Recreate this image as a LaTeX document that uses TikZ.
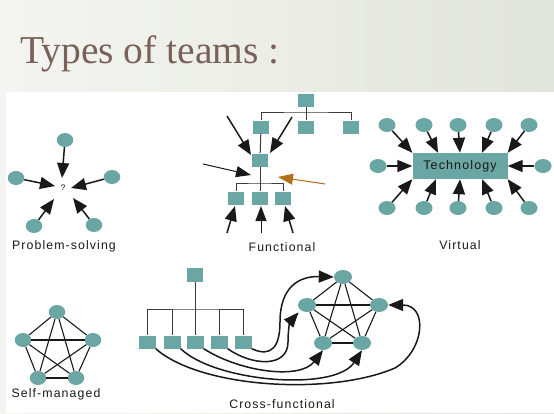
\documentclass[tikz,border=0pt]{standalone}
\usepackage{fontspec}
\newfontfamily\labfont[LetterSpace=9]{Liberation Sans}
\newfontfamily\ttlfont{Liberation Serif}
\usetikzlibrary{arrows.meta,shapes.geometric}
\definecolor{tealfill}{RGB}{106,166,163}
\definecolor{titlecol}{RGB}{120,98,90}
\definecolor{bgleft}{RGB}{244,245,241}
\definecolor{bgright}{RGB}{226,229,219}
\definecolor{inkc}{RGB}{25,25,25}
\definecolor{brownarrow}{RGB}{176,112,24}
\tikzset{
  circ/.style={ellipse,fill=tealfill,minimum width=16.5pt,minimum height=14pt,inner sep=0pt},
  sqr/.style={rectangle,fill=tealfill,minimum width=15.5pt,minimum height=13pt,inner sep=0pt},
  arr/.style={draw=inkc,line width=1.5pt,-{Triangle[length=15pt,width=12pt]}},
  thinarr/.style={draw=inkc,line width=1pt,-{Triangle[length=15pt,width=11pt]}},
  treeline/.style={draw=inkc!85,line width=1pt},
  edgeline/.style={draw=inkc,line width=1.1pt},
  lab/.style={font=\labfont\fontsize{12.3}{14}\selectfont,text=inkc,inner sep=0pt},
}
\begin{document}
\begin{tikzpicture}[x=1pt,y=-1pt]
\useasboundingbox (0,0) rectangle (554,413);
\shade[left color=bgleft,right color=bgright] (0,0) rectangle (554,413);
\fill[white] (6,92) rectangle (554,413);
\node[anchor=base west,inner sep=0pt,text=titlecol,font=\ttlfont\fontsize{39.5}{44}\selectfont] (title) at (20,63) {Types of teams :};

% ---------- Problem-solving ----------
\node[circ] (p1) at (65,140) {};
\node[circ] (p2) at (16,178) {};
\node[circ] (p3) at (112,177) {};
\node[circ] (p4) at (34,226) {};
\node[circ] (p5) at (94,225) {};
\node[font=\labfont\fontsize{8}{9}\selectfont,inner sep=0pt] (q) at (63,188) {?};
\coordinate (pt1) at (62,178);
\coordinate (pt2) at (55,186);
\coordinate (pt3) at (71,188);
\coordinate (pt4) at (54,199);
\coordinate (pt5) at (73,198);
\draw[arr] (p1) -- (pt1);
\draw[arr] (p2) -- (pt2);
\draw[arr] (p3) -- (pt3);
\draw[arr] (p4) -- (pt4);
\draw[arr] (p5) -- (pt5);
\node[lab] (lps) at (64,246) {Problem-solving};

% ---------- Functional ----------
\node[sqr] (f0) at (306,100) {};
\node[sqr] (f1) at (261,127) {};
\node[sqr] (f2) at (306,127) {};
\node[sqr] (f3) at (351,127) {};
\node[sqr] (fm) at (260,160) {};
\node[sqr] (fb1) at (236,198) {};
\node[sqr] (fb2) at (260,198) {};
\node[sqr] (fb3) at (283,198) {};
\coordinate (fj) at (306,112);
\coordinate (fk) at (260,183);
\draw[treeline] (f0) -- (f2);
\draw[treeline] (f1) |- (fj) -| (f3);
\draw[treeline] (f1) -- (fm);
\draw[treeline] (fm) -- (fb2);
\draw[treeline] (fb1) |- (fk) -| (fb3);
\coordinate (fa1s) at (227,116); \coordinate (fa1e) at (251,155);
\coordinate (fa2s) at (292,117); \coordinate (fa2e) at (270,153);
\coordinate (fa3s) at (203,164); \coordinate (fa3e) at (251,175);
\coordinate (fa4s) at (325,184); \coordinate (fa4e) at (278,177);
\coordinate (fb1s) at (227,233); \coordinate (fb1e) at (235,206);
\coordinate (fb2s) at (261,233); \coordinate (fb2e) at (261,206);
\coordinate (fb3s) at (293,233); \coordinate (fb3e) at (285,206);
\draw[arr] (fa1s) -- (fa1e);
\draw[arr] (fa2s) -- (fa2e);
\draw[thinarr] (fa3s) -- (fa3e);
\draw[thinarr,draw=brownarrow,fill=brownarrow] (fa4s) -- (fa4e);
\draw[arr] (fb1s) -- (fb1e);
\draw[thinarr] (fb2s) -- (fb2e);
\draw[arr] (fb3s) -- (fb3e);
\node[lab] (lfn) at (282,247) {Functional};

% ---------- Virtual ----------
\node[rectangle,fill=tealfill,minimum width=95pt,minimum height=26pt,inner sep=0pt,
      font=\labfont\fontsize{12.5}{14}\selectfont,text=inkc] (tech) at (460,166) {Technology};
\foreach \i/\x in {1/387,2/424,3/458,4/494,5/529}{
  \node[circ,minimum width=17pt] (vt\i) at (\x,125) {};
  \node[circ,minimum width=17pt] (vb\i) at (\x,208) {};
}
\node[circ,minimum width=17pt] (vl) at (378,166) {};
\node[circ,minimum width=17pt] (vr) at (543,166) {};
\draw[arr] (vt1) -- (tech.north west);
\draw[arr] (vt2) -- ([xshift=-22pt]tech.north);
\draw[arr] (vt3) -- (tech.north);
\draw[arr] (vt4) -- ([xshift=22pt]tech.north);
\draw[arr] (vt5) -- (tech.north east);
\draw[arr] (vb1) -- (tech.south west);
\draw[arr] (vb2) -- ([xshift=-24pt]tech.south);
\draw[arr] (vb3) -- (tech.south);
\draw[arr] (vb4) -- ([xshift=22pt]tech.south);
\draw[arr] (vb5) -- (tech.south east);
\draw[arr] (vl) -- (tech.west);
\draw[arr] (vr) -- (tech.east);
\node[lab] (lvi) at (460,245) {Virtual};

% ---------- Self-managed ----------
\node[circ] (s1) at (57,312) {};
\node[circ] (s2) at (23,340) {};
\node[circ] (s3) at (93,340) {};
\node[circ] (s4) at (38,378) {};
\node[circ] (s5) at (76,378) {};
\foreach \a/\b in {s1/s2,s1/s3,s1/s4,s1/s5,s2/s3,s2/s4,s2/s5,s3/s4,s3/s5,s4/s5}
  \draw[edgeline] (\a) -- (\b);
\node[lab] (lsm) at (56,394) {Self-managed};

% ---------- Cross-functional ----------
\node[sqr,minimum width=16pt,minimum height=14pt] (c0) at (195,275) {};
\foreach \i/\x in {1/147,2/172,3/195,4/219,5/243}
  \node[sqr,minimum width=17pt] (c\i) at (\x,342) {};
\coordinate (cj) at (195,309);
\draw[treeline] (c0) -- (c3);
\draw[treeline] (c1) |- (cj) -| (c5);
\draw[treeline] (c2) -- (c2 |- cj);
\draw[treeline] (c4) -- (c4 |- cj);
\node[circ,minimum width=18pt] (k1) at (343,277) {};
\node[circ,minimum width=18pt] (k2) at (307,305) {};
\node[circ,minimum width=18pt] (k3) at (379,305) {};
\node[circ,minimum width=18pt] (k4) at (323,343) {};
\node[circ,minimum width=18pt] (k5) at (362,343) {};
\foreach \a/\b in {k1/k2,k1/k3,k1/k4,k1/k5,k2/k3,k2/k4,k2/k5,k3/k4,k3/k5,k4/k5}
  \draw[edgeline] (\a) -- (\b);
% curved arrows
\draw[arr] (c5.south east) .. controls (272,358) and (280,346) .. (280,322)
           .. controls (280,286) and (300,276) .. (k1.west);
\draw[arr,shorten >=3pt] (c4.south east) .. controls (252,366) and (288,368) .. (288,342)
           .. controls (288,330) and (290,322) .. (k2.south west);
\draw[arr] (c3.south east) .. controls (240,372) and (300,380) .. (k4.south);
\draw[arr] (c2.south east) .. controls (215,382) and (335,392) .. (k5.south);
\draw[arr] (c1.south east) .. controls (200,388) and (330,396) .. (395,368)
           .. controls (425,350) and (428,305) .. (k3.east);
\node[lab] (lcf) at (282,404) {Cross-functional};
\end{tikzpicture}
\end{document}
